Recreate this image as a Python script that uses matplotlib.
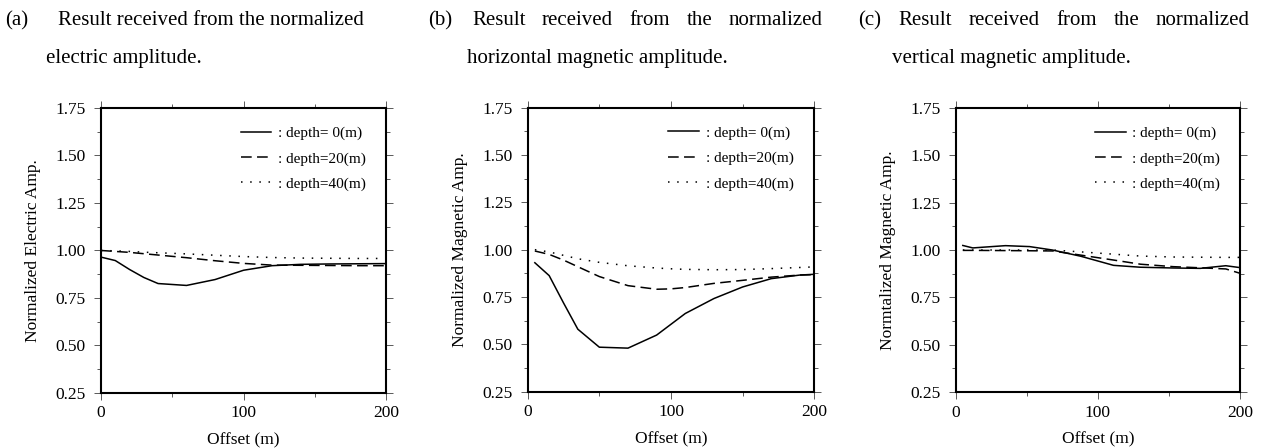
import matplotlib
matplotlib.use('Agg')
import matplotlib.pyplot as plt
import numpy as np

plt.rcParams['font.family'] = 'Liberation Serif'

# (a) normalized electric amplitude
offset_a = [0, 10, 20, 30, 40, 60, 80, 100, 120, 140, 160, 180, 200]
elec_d0 = [0.965, 0.947, 0.900, 0.858, 0.826, 0.816, 0.847, 0.896, 0.920, 0.927, 0.929, 0.930, 0.931]
elec_d20 = [1.000, 0.995, 0.990, 0.983, 0.976, 0.962, 0.946, 0.932, 0.923, 0.922, 0.921, 0.920, 0.920]
elec_d40 = [1.000, 0.998, 0.995, 0.991, 0.988, 0.982, 0.975, 0.968, 0.963, 0.960, 0.959, 0.958, 0.958]

# (b) normalized horizontal magnetic amplitude
offset_b = [5, 15, 25, 35, 50, 70, 90, 100, 110, 130, 150, 170, 190, 200]
hmag_d0 = [0.931, 0.863, 0.719, 0.580, 0.485, 0.480, 0.549, 0.606, 0.663, 0.742, 0.803, 0.847, 0.866, 0.870]
hmag_d20 = [0.993, 0.975, 0.945, 0.910, 0.858, 0.810, 0.791, 0.793, 0.800, 0.822, 0.838, 0.855, 0.866, 0.868]
hmag_d40 = [1.000, 0.988, 0.970, 0.952, 0.933, 0.915, 0.903, 0.899, 0.896, 0.894, 0.895, 0.900, 0.906, 0.909]

# (c) normalized vertical magnetic amplitude
offset_c = [5, 12, 35, 52, 68, 88, 111, 130, 153, 172, 190, 200]
vmag_d0 = [1.024, 1.011, 1.023, 1.018, 1.000, 0.967, 0.919, 0.909, 0.905, 0.903, 0.917, 0.907]
vmag_d20 = [0.998, 0.998, 0.997, 0.996, 0.995, 0.973, 0.947, 0.925, 0.912, 0.906, 0.900, 0.877]
vmag_d40 = [1.000, 1.000, 1.000, 1.000, 1.000, 0.990, 0.978, 0.968, 0.963, 0.962, 0.961, 0.961]

legend_labels = [': depth= 0(m)', ': depth=20(m)', ': depth=40(m)']
ylabels = ['Normalized Electric Amp.', 'Normalized Magnetic Amp.', 'Normtalized Magnetic Amp.']

fig = plt.figure(figsize=(12.63, 4.48), dpi=100)
W, H = 1263.0, 448.0

rects = [[0.0800, 0.1228, 0.2257, 0.6362],
         [0.4178, 0.1257, 0.2269, 0.6340],
         [0.7567, 0.1250, 0.2251, 0.6339]]
panels = [(offset_a, elec_d0, elec_d20, elec_d40),
          (offset_b, hmag_d0, hmag_d20, hmag_d40),
          (offset_c, vmag_d0, vmag_d20, vmag_d40)]

for rect, (x, d0, d20, d40), ylab in zip(rects, panels, ylabels):
    ax = fig.add_axes(rect)
    ax.plot(x, d0, color='k', lw=1.1, label=legend_labels[0])
    ax.plot(x, d20, color='k', lw=1.1, dashes=(7, 3.5), label=legend_labels[1])
    ax.plot(x, d40, color='k', lw=1.1, dashes=(1, 5), label=legend_labels[2])
    ax.set_xlim(0, 200)
    ax.set_ylim(0.25, 1.75)
    ax.set_xticks([0, 100, 200])
    ax.set_xticks([50, 150], minor=True)
    ax.set_yticks(np.arange(0.25, 1.76, 0.25))
    ax.set_yticks(np.arange(0.375, 1.75, 0.25), minor=True)
    ax.yaxis.set_major_formatter(matplotlib.ticker.FormatStrFormatter('%.2f'))
    ax.tick_params(which='both', direction='out', top=True, right=True,
                   labelsize=12.5, width=0.7, color='0.35')
    ax.tick_params(which='major', length=5)
    ax.tick_params(which='minor', length=3)
    ax.tick_params(axis='y', pad=6)
    ax.tick_params(axis='x', pad=4)
    for s in ax.spines.values():
        s.set_linewidth(1.5)
    ax.set_xlabel('Offset (m)', fontsize=12.5, labelpad=8)
    ax.set_ylabel(ylab, fontsize=12.5, labelpad=10)
    ax.legend(loc='upper left', bbox_to_anchor=(0.49, 0.935), frameon=False,
              fontsize=11, handlelength=2.0, handletextpad=0.45,
              labelspacing=0.75, borderpad=0, borderaxespad=0)

# panel captions (first line justified in (b) and (c))
tsize = 15
renderer = fig.canvas.get_renderer()


def justify(words, left, right, ybase):
    texts = [fig.text(0, ybase, w, fontsize=tsize, va='baseline') for w in words]
    widths = [t.get_window_extent(renderer).width for t in texts]
    gap = (right - left - sum(widths)) / (len(words) - 1)
    xpos = left
    for t, w in zip(texts, widths):
        t.set_x(xpos / W)
        xpos += w + gap


line1 = 'Result received from the normalized'
y1 = 1 - 25 / H
y2 = 1 - 63 / H
fig.text(5 / W, y1, '(a)', fontsize=tsize, va='baseline')
fig.text(58 / W, y1, line1, fontsize=tsize, va='baseline')
fig.text(46 / W, y2, 'electric amplitude.', fontsize=tsize, va='baseline')

fig.text(428 / W, y1, '(b)', fontsize=tsize, va='baseline')
justify(line1.split(), 472, 823, y1)
fig.text(467 / W, y2, 'horizontal magnetic amplitude.', fontsize=tsize, va='baseline')

fig.text(858 / W, y1, '(c)', fontsize=tsize, va='baseline')
justify(line1.split(), 898, 1250, y1)
fig.text(892 / W, y2, 'vertical magnetic amplitude.', fontsize=tsize, va='baseline')

fig.savefig('out.png', dpi=100)
